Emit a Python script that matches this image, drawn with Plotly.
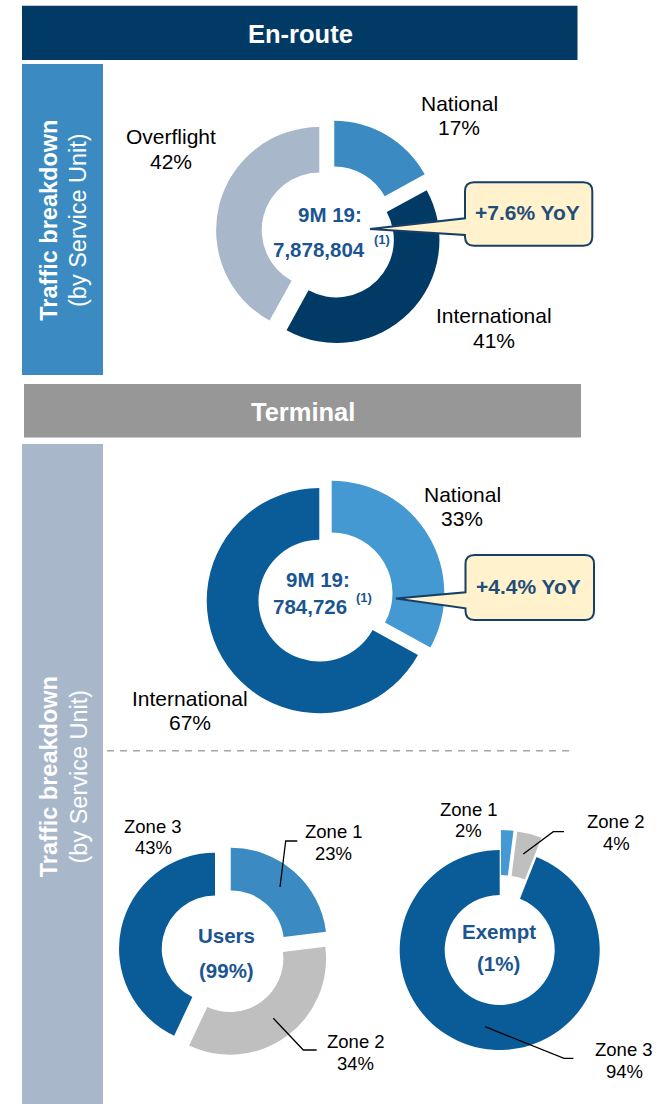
import plotly.graph_objects as go

W, H = 664, 1104

# ---------------- data ----------------
enroute_labels = ["National", "International", "Overflight"]
enroute_values = [17, 41, 42]
enroute_total = "7,878,804"
enroute_yoy = "+7.6% YoY"

terminal_labels = ["National", "International"]
terminal_values = [33, 67]
terminal_total = "784,726"
terminal_yoy = "+4.4% YoY"

users_labels = ["Zone 1", "Zone 2", "Zone 3"]
users_values = [23, 34, 43]
users_share = "99%"

exempt_labels = ["Zone 1", "Zone 2", "Zone 3"]
exempt_values = [2, 4, 94]
exempt_share = "1%"

# ---------------- styles ----------------
FONT = "Liberation Sans, Arial, sans-serif"
NAVY = "#023A66"
BLUE = "#3B8BC2"
LBLUE = "#4499D3"
MBLUE = "#0A5C99"
GREYBLUE = "#A9B7CB"
LGREY = "#BFBFBF"
TXTBLUE = "#1B5591"
CALLTXT = "#1F4E79"


def X(px):
    return px / W


def Y(py):
    return 1 - py / H


def domain(cx, cy, R, maxpull):
    half = R * (1 + maxpull)
    return dict(x=[X(cx - half), X(cx + half)], y=[Y(cy + half), Y(cy - half)])


def donut(labels, values, colors, cx, cy, R, hole, pull):
    mp = max(pull) if isinstance(pull, list) else pull
    return go.Pie(
        labels=labels, values=values, sort=False, direction="clockwise",
        rotation=0, hole=hole, pull=pull, textinfo="none", hoverinfo="skip",
        marker=dict(colors=colors, line=dict(width=0)),
        domain=domain(cx, cy, R, mp), showlegend=False,
    )


fig = go.Figure()
fig.add_trace(donut(enroute_labels, enroute_values, [BLUE, NAVY, GREYBLUE],
                    329.1, 232.7, 103.2, 0.558, 0.098))
fig.add_trace(donut(terminal_labels, terminal_values, [LBLUE, MBLUE],
                    325.5, 597, 112.6, 0.54, 0.064))
fig.add_trace(donut(users_labels, users_values, [BLUE, LGREY, MBLUE],
                    224.4, 950.9, 96, 0.555, 0.1))
fig.add_trace(donut(exempt_labels, exempt_values, [LBLUE, LGREY, MBLUE],
                    499.7, 950, 100, 0.55, [0.2, 0.2, 0.0]))

shapes = []


def rect(x0, y0, x1, y1, color):
    shapes.append(dict(type="rect", xref="paper", yref="paper",
                       x0=X(x0), x1=X(x1), y0=Y(y1), y1=Y(y0),
                       fillcolor=color, line=dict(width=0), layer="below"))


rect(22, 5.7, 577.5, 60, NAVY)
rect(22, 64, 103, 375, BLUE)
rect(24, 384, 581, 437.5, "#979797")
rect(22, 444, 103, 1104, GREYBLUE)


def P(x, y):
    return f"{X(x):.5f},{Y(y):.5f}"


def callout(x0, y0, x1, y1, r, wy0, wy1, tx, ty):
    d = (f"M{P(x0 + r, y0)} L{P(x1 - r, y0)} Q{P(x1, y0)} {P(x1, y0 + r)} "
         f"L{P(x1, y1 - r)} Q{P(x1, y1)} {P(x1 - r, y1)} L{P(x0 + r, y1)} "
         f"Q{P(x0, y1)} {P(x0, y1 - r)} L{P(x0, wy1)} L{P(tx, ty)} L{P(x0, wy0)} "
         f"L{P(x0, y0 + r)} Q{P(x0, y0)} {P(x0 + r, y0)} Z")
    shapes.append(dict(type="path", xref="paper", yref="paper", path=d,
                       fillcolor="#FFF2CC", line=dict(color="#173F66", width=2),
                       layer="above"))


callout(465, 182.3, 592.3, 245.7, 9, 218.3, 235, 370, 229)
callout(465.5, 555, 594, 620, 9, 592.3, 608.3, 396, 598.5)


def polyline(pts, color="#000000", width=1.3):
    d = "M" + " L".join(P(x, y) for x, y in pts)
    shapes.append(dict(type="path", xref="paper", yref="paper", path=d,
                       line=dict(color=color, width=width), layer="above"))


polyline([(280, 887), (285.7, 841), (297.3, 841)])
polyline([(273.3, 1018.3), (303.3, 1050), (316.7, 1050)])
polyline([(523.3, 854), (553.3, 831.7), (564, 831.7)])
polyline([(485, 1026.7), (564, 1058.3), (573.3, 1058.3)])

shapes.append(dict(type="line", xref="paper", yref="paper",
                   x0=X(107), x1=X(575), y0=Y(750.7), y1=Y(750.7),
                   line=dict(color="#A6A6A6", width=1.6, dash="7px,6px")))

annotations = []


def ann(text, x, y, size, color="#000000", bold=False, angle=0):
    t = f"<b>{text}</b>" if bold else text
    annotations.append(dict(text=t, x=X(x), y=Y(y), xref="paper", yref="paper",
                            showarrow=False, xanchor="center", yanchor="middle",
                            textangle=angle,
                            font=dict(family=FONT, size=size, color=color)))


# headers
ann("En-route", 300, 33.5, 25.5, "#FFFFFF", True)
ann("Terminal", 303, 411.5, 25.5, "#FFFFFF", True)

# vertical side texts
for cyv in (220, 776.5):
    ann("Traffic breakdown", 48.7, cyv, 23.5, "#FFFFFF", True, -90)
    ann("(by Service Unit)", 78, cyv, 23.5, "#FFFFFF", False, -90)

# en-route labels
en_pos = [(459.5, 103.3), (493.6, 316), (171, 136.7)]
for lab, v, (x, y) in zip(enroute_labels, enroute_values, en_pos):
    ann(lab, x, y, 21)
    ann(f"{v}%", x, y + 24.5, 21)

ann("9M 19:", 330.3, 214.3, 20.5, TXTBLUE, True)
ann(enroute_total, 319.2, 249.7, 20.5, TXTBLUE, True)
ann("(1)", 381.5, 240, 13, TXTBLUE, True)
ann(enroute_yoy, 527, 212.7, 21, CALLTXT, True)

# terminal labels
te_pos = [(462, 494.3), (189.5, 698)]
for lab, v, (x, y) in zip(terminal_labels, terminal_values, te_pos):
    ann(lab, x, y, 21)
    ann(f"{v}%", x, y + 24.5, 21)

ann("9M 19:", 318, 579.7, 20.5, TXTBLUE, True)
ann(terminal_total, 309.7, 606.7, 20.5, TXTBLUE, True)
ann("(1)", 363.7, 597.5, 13, TXTBLUE, True)
ann(terminal_yoy, 528.7, 586.7, 21, CALLTXT, True)

# users labels
us_pos = [(333.5, 831.7), (355.7, 1041.7), (153, 826)]
for lab, v, (x, y) in zip(users_labels, users_values, us_pos):
    ann(lab, x, y, 18.5)
    ann(f"{v}%", x, y + 21.5, 18.5)
ann("Users", 226.2, 935, 20.5, TXTBLUE, True)
ann(f"({users_share})", 226.7, 970, 20.5, TXTBLUE, True)

# exempt labels
ex_pos = [(468.5, 809), (616, 821.7), (624, 1049.5)]
for lab, v, (x, y) in zip(exempt_labels, exempt_values, ex_pos):
    ann(lab, x, y, 18.5)
    ann(f"{v}%", x, y + 21.5, 18.5)
ann("Exempt", 498.7, 931.7, 20.5, TXTBLUE, True)
ann(f"({exempt_share})", 498.7, 963.3, 20.5, TXTBLUE, True)

fig.update_layout(
    width=W, height=H, autosize=False,
    margin=dict(l=0, r=0, t=0, b=0, pad=0),
    paper_bgcolor="#FFFFFF", plot_bgcolor="#FFFFFF",
    shapes=shapes, annotations=annotations, showlegend=False,
    font=dict(family=FONT),
)

fig.write_html("out.html", config={"displayModeBar": False},
               post_script="document.body.style.margin='0';")
